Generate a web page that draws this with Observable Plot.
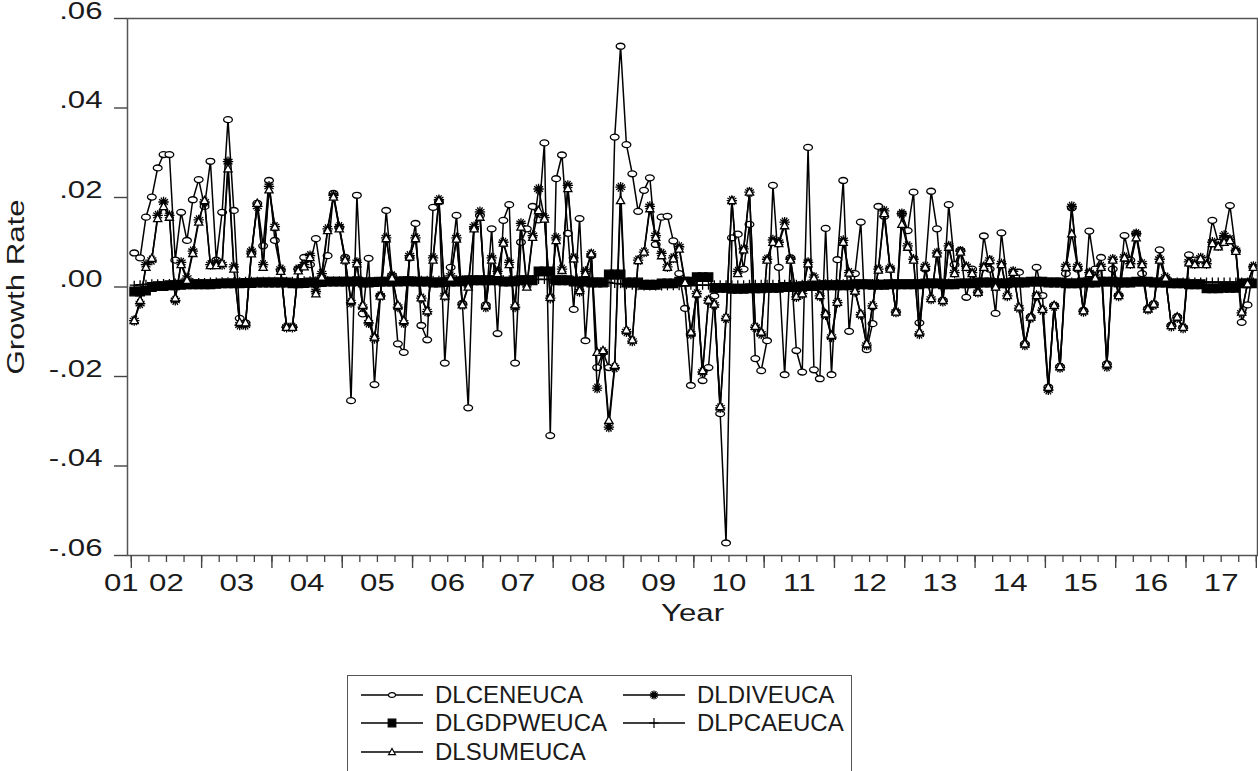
<!DOCTYPE html>
<html><head><meta charset="utf-8">
<script src="https://cdn.jsdelivr.net/npm/d3@7"></script>
<script src="https://cdn.jsdelivr.net/npm/@observablehq/plot@0.6"></script>
<style>
html,body{margin:0;padding:0;background:#fff;}
#wrap{position:relative;width:1258px;height:771px;overflow:hidden;font-family:"Liberation Sans",Arial,Helvetica,sans-serif;}
#legend{position:absolute;left:347px;top:675px;width:505px;height:130px;border:1.5px solid #555;box-sizing:border-box;background:#fff;}
.lsym{position:absolute;}
.ltxt{position:absolute;font-size:24px;line-height:28px;color:#1a1a1a;white-space:nowrap;}
</style></head><body><div id="wrap"></div>
<script>
// ---- data: monthly growth rates, 2002M1 .. 2017M12 (index 1..192) ----
const yearLabels = ["01","02","03","04","05","06","07","08","09","10","11","12","13","14","15","16","17"];
const yTickValues = [-0.06,-0.04,-0.02,0,0.02,0.04,0.06];
const seriesNames = ["DLCENEUCA","DLDIVEUCA","DLGDPWEUCA","DLPCAEUCA","DLSUMEUCA"];

const CEN = [
 .0076,.0065,.0156,.0201,.0266,.0296,.0296,.0060,.0167,.0104,.0195,.0240,
 .0180,.0281,.0060,.0167,.0374,.0171,-.0070,-.0080,.0075,.0187,.0092,.0238,
 .0104,.0037,-.0090,-.0090,.0040,.0066,.0050,.0108,.0020,.0070,.0209,.0133,
 .0066,-.0254,.0205,-.0060,.0064,-.0218,-.0020,.0171,.0026,-.0127,-.0146,.0065,
 .0142,-.0086,-.0118,.0178,.0190,-.0170,.0044,.0160,-.0037,-.0270,.0130,.0160,
 -.0040,.0130,-.0104,.0149,.0184,-.0170,.0100,.0130,.0180,.0150,.0322,-.0332,
 .0242,.0295,.0120,-.0050,.0153,-.0120,.0070,-.0180,-.0146,-.0180,.0335,.0538,
 .0318,.0253,.0169,.0216,.0244,.0095,.0156,.0158,.0103,.0030,-.0048,-.0220,
 .0020,-.0209,-.0180,-.0020,-.0283,-.0572,.0110,.0118,.0040,.0140,-.0160,-.0187,
 -.0120,.0227,.0044,-.0196,.0065,-.0142,-.0190,.0312,-.0185,-.0205,.0131,-.0196,
 .0061,.0238,-.0099,.0030,.0145,-.0140,-.0082,.0180,.0158,.0040,-.0056,.0164,
 .0126,.0212,-.0080,.0040,.0214,.0130,-.0030,.0184,.0050,.0082,-.0023,.0040,
 -.0012,.0114,.0040,-.0059,.0121,.0010,.0033,.0033,-.0127,-.0067,.0044,-.0019,
 -.0224,-.0041,-.0178,.0030,.0177,.0040,-.0053,.0125,.0040,.0066,-.0172,.0040,
 -.0019,.0115,.0060,.0120,.0030,-.0049,-.0038,.0083,.0020,-.0086,-.0067,-.0090,
 .0072,.0060,.0050,.0060,.0149,.0100,.0110,.0182,.0080,-.0079,-.0040,.0044
];
const DIV = [
 -.0075,-.0037,.0050,.0060,.0160,.0190,.0160,-.0030,.0055,.0020,.0080,.0150,
 .0190,.0050,.0055,.0050,.0280,.0045,-.0085,-.0085,.0080,.0180,.0050,.0225,
 .0135,.0040,-.0090,-.0090,.0040,.0050,.0070,-.0010,.0030,.0130,.0205,.0135,
 .0060,-.0035,.0055,-.0045,-.0080,-.0115,-.0020,.0110,.0025,-.0045,-.0080,.0070,
 .0110,-.0025,-.0055,.0065,.0195,-.0020,.0025,.0110,-.0040,.0005,.0135,.0168,
 -.0045,.0065,.0035,.0100,.0055,-.0045,.0142,.0005,.0115,.0219,.0155,-.0025,
 .0110,.0040,.0227,.0065,-.0010,.0035,.0074,-.0226,-.0145,-.0313,-.0180,.0223,
 -.0100,-.0121,.0060,.0078,.0180,.0115,.0075,.0045,.0065,.0090,.0012,-.0105,
 -.0015,-.0190,-.0030,-.0040,-.0270,-.0070,.0193,.0035,.0085,.0212,-.0090,-.0105,
 .0062,.0105,.0100,.0145,.0062,-.0022,-.0015,.0055,.0022,-.0020,-.0062,-.0112,
 -.0035,.0104,.0032,-.0010,-.0062,-.0130,-.0042,.0040,.0170,.0042,-.0056,.0164,
 .0092,.0062,-.0105,.0046,-.0027,.0076,-.0032,.0092,.0032,.0080,.0046,.0032,
 -.0012,.0046,.0060,.0002,.0052,-.0020,.0035,-.0047,-.0130,-.0069,-.0020,-.0052,
 -.0230,-.0043,-.0180,.0046,.0180,.0046,-.0055,.0032,.0022,.0046,-.0178,.0062,
 -.0020,.0067,.0052,.0119,.0052,-.0050,-.0040,.0062,.0022,-.0088,-.0069,-.0092,
 .0056,.0052,.0065,.0052,.0100,.0092,.0115,.0106,.0082,-.0058,.0008,.0046
];
const GDP = [
 -.0010,-.0010,-.0008,.0000,.0002,.0002,.0004,.0004,.0005,.0006,.0006,.0006,
 .0006,.0006,.0007,.0008,.0008,.0008,.0008,.0009,.0009,.0010,.0010,.0010,
 .0010,.0010,.0010,.0008,.0008,.0009,.0010,.0010,.0011,.0012,.0012,.0012,
 .0012,.0012,.0013,.0010,.0010,.0011,.0012,.0012,.0012,.0012,.0013,.0013,
 .0012,.0012,.0012,.0010,.0010,.0011,.0012,.0012,.0013,.0015,.0015,.0015,
 .0015,.0015,.0015,.0012,.0012,.0013,.0015,.0015,.0015,.0035,.0035,.0035,
 .0015,.0015,.0015,.0012,.0012,.0012,.0010,.0010,.0010,.0028,.0028,.0028,
 .0010,.0010,.0010,.0005,.0005,.0005,.0008,.0008,.0008,.0012,.0012,.0012,
 .0022,.0022,.0022,-.0002,-.0002,-.0002,-.0004,-.0004,-.0004,-.0003,-.0003,-.0003,
 -.0002,-.0002,-.0002,.0000,.0000,.0000,.0002,.0002,.0002,.0004,.0004,.0004,
 .0004,.0004,.0004,.0006,.0006,.0006,.0005,.0005,.0005,.0006,.0006,.0006,
 .0006,.0006,.0006,.0008,.0008,.0008,.0006,.0006,.0006,.0008,.0008,.0008,
 .0010,.0010,.0010,.0008,.0008,.0008,.0010,.0010,.0010,.0012,.0012,.0012,
 .0010,.0010,.0010,.0008,.0008,.0008,.0010,.0010,.0010,.0012,.0012,.0012,
 .0010,.0010,.0010,.0012,.0012,.0012,.0010,.0010,.0010,.0008,.0008,.0008,
 .0006,.0006,.0006,-.0003,-.0003,-.0003,-.0002,-.0002,-.0002,.0008,.0008,.0008
];
const PCA = [
 .0004,.0005,.0006,.0007,.0007,.0008,.0008,.0009,.0009,.0010,.0010,.0010,
 .0010,.0011,.0011,.0012,.0012,.0012,.0012,.0013,.0013,.0013,.0013,.0013,
 .0013,.0013,.0013,.0013,.0013,.0014,.0014,.0014,.0014,.0014,.0014,.0014,
 .0014,.0013,.0013,.0013,.0013,.0013,.0013,.0013,.0013,.0014,.0014,.0014,
 .0014,.0015,.0015,.0015,.0015,.0016,.0016,.0016,.0016,.0016,.0016,.0016,
 .0016,.0016,.0016,.0016,.0016,.0016,.0017,.0017,.0017,.0017,.0017,.0017,
 .0016,.0016,.0015,.0015,.0014,.0014,.0013,.0012,.0011,.0010,.0008,.0007,
 .0005,.0004,.0003,.0002,.0002,.0002,.0002,.0003,.0003,.0003,.0004,.0004,
 .0004,.0004,.0004,.0005,.0005,.0005,.0005,.0005,.0005,.0006,.0006,.0006,
 .0006,.0006,.0006,.0006,.0006,.0006,.0006,.0006,.0007,.0007,.0007,.0007,
 .0007,.0007,.0007,.0007,.0007,.0007,.0008,.0008,.0008,.0008,.0008,.0008,
 .0008,.0008,.0008,.0008,.0009,.0009,.0009,.0009,.0009,.0009,.0009,.0010,
 .0010,.0010,.0010,.0010,.0010,.0010,.0010,.0011,.0011,.0011,.0011,.0011,
 .0011,.0011,.0011,.0011,.0011,.0011,.0011,.0011,.0011,.0011,.0011,.0011,
 .0011,.0011,.0011,.0011,.0011,.0011,.0011,.0011,.0011,.0011,.0011,.0011,
 .0011,.0011,.0011,.0011,.0011,.0011,.0011,.0011,.0011,.0011,.0011,.0011
];
const SUM = [
 -.0075,-.0030,.0044,.0064,.0153,.0180,.0156,-.0025,.0050,.0015,.0075,.0145,
 .0193,.0048,.0048,.0053,.0264,.0040,-.0079,-.0080,.0074,.0187,.0044,.0217,
 .0134,.0035,-.0090,-.0090,.0036,.0045,.0066,-.0015,.0022,.0126,.0201,.0130,
 .0060,-.0030,.0052,-.0041,-.0073,-.0112,-.0020,.0108,.0020,-.0041,-.0075,.0067,
 .0108,-.0024,-.0053,.0060,.0193,-.0020,.0020,.0107,-.0040,.0000,.0130,.0156,
 -.0041,.0060,.0030,.0098,.0050,-.0040,.0134,.0000,.0111,.0171,.0152,-.0023,
 .0104,.0037,.0220,.0063,-.0008,.0030,.0074,-.0146,-.0142,-.0298,-.0175,.0193,
 -.0096,-.0118,.0059,.0078,.0175,.0111,.0070,.0044,.0063,.0085,.0010,-.0101,
 -.0015,-.0187,-.0029,-.0038,-.0267,-.0067,.0193,.0030,.0083,.0212,-.0088,-.0101,
 .0060,.0100,.0097,.0137,.0060,-.0021,-.0015,.0052,.0020,-.0019,-.0060,-.0108,
 -.0034,.0100,.0031,-.0009,-.0060,-.0127,-.0041,.0038,.0164,.0040,-.0056,.0140,
 .0089,.0060,-.0101,.0044,-.0026,.0074,-.0030,.0089,.0030,.0078,.0044,.0030,
 -.0012,.0044,.0059,.0000,.0050,-.0019,.0033,-.0045,-.0127,-.0067,-.0019,-.0050,
 -.0224,-.0041,-.0178,.0044,.0119,.0044,-.0053,.0030,.0020,.0044,-.0172,.0060,
 -.0019,.0065,.0050,.0110,.0050,-.0049,-.0038,.0060,.0020,-.0086,-.0067,-.0090,
 .0054,.0050,.0063,.0050,.0097,.0090,.0100,.0104,.0080,-.0056,.0007,.0044
];

// ---- symbols ----
const K = 0.5523;
const ellipseSym = {draw(c, size) {
  const r = Math.sqrt(size / Math.PI), rx = r * 1.25, ry = r * 0.85;
  c.moveTo(rx, 0);
  c.bezierCurveTo(rx, ry * K, rx * K, ry, 0, ry);
  c.bezierCurveTo(-rx * K, ry, -rx, ry * K, -rx, 0);
  c.bezierCurveTo(-rx, -ry * K, -rx * K, -ry, 0, -ry);
  c.bezierCurveTo(rx * K, -ry, rx, -ry * K, rx, 0);
  c.closePath();
}};
const triSym = {draw(c, size) {
  const r = Math.sqrt(size / Math.PI);
  c.moveTo(0, -r * 1.05); c.lineTo(r, r * 0.75); c.lineTo(-r, r * 0.75); c.closePath();
}};
const starSym = {draw(c, size) {
  const r = Math.sqrt(size / Math.PI);
  for (let k = 0; k < 6; k++) {
    const a = k * Math.PI / 6 + Math.PI / 2;
    c.moveTo(-r * Math.cos(a), -r * Math.sin(a)); c.lineTo(r * Math.cos(a), r * Math.sin(a));
  }
}};
const squareSym = {draw(c, size) {
  const r = Math.sqrt(size / Math.PI);
  c.rect(-r, -r, 2 * r, 2 * r);
}};
const plusSym = {draw(c, size) {
  const r = Math.sqrt(size / Math.PI);
  c.moveTo(-r, 0); c.lineTo(r, 0); c.moveTo(0, -r); c.lineTo(0, r);
}};

const styles = {
  DLCENEUCA: {vals: CEN, sym: ellipseSym, fill: "white", r: 3.5, lr: 2.8},
  DLDIVEUCA: {vals: DIV, sym: starSym, fill: "none", r: 5.2, lr: 4.5},
  DLGDPWEUCA: {vals: GDP, sym: squareSym, fill: "black", r: 4.3, lr: 3.8},
  DLPCAEUCA: {vals: PCA, sym: plusSym, fill: "none", r: 4.5, lr: 5},
  DLSUMEUCA: {vals: SUM, sym: triSym, fill: "white", r: 4.1, lr: 3.4}
};

// ---- axis tick positions (month index units) ----
const quarterTicks = d3.range(0, 65).map(k => 0.5 + 3 * k);
const yearTicks = d3.range(0, 17).map(k => 0.5 + 12 * k);
const labelTicks = yearLabels.map((_, i) => i === 0 ? -1.2 : (i - 1) * 12 + 6.5);
const fmtY = v => (v < -1e-9 ? "-" : "") + Math.abs(v).toFixed(2).replace(/^0/, "");

const marks = [];
for (const name of seriesNames) {
  const st = styles[name];
  const rows = st.vals.map((v, i) => ({s: i + 1, v, series: name}));
  marks.push(Plot.line(rows, {x: "s", y: "v", stroke: "black", strokeWidth: 1.5}));
  marks.push(Plot.dot(rows, {x: "s", y: "v", symbol: st.sym, r: st.r, fill: st.fill, stroke: "black", strokeWidth: 1.3}));
}

const chart = Plot.plot({
  width: 1258, height: 660,
  marginLeft: 127, marginRight: 1, marginTop: 18, marginBottom: 105,
  style: {fontFamily: "'Liberation Sans', Arial, Helvetica, sans-serif", fontSize: "24px", color: "#1a1a1a", background: "white", overflow: "visible"},
  x: {type: "linear", domain: [-0.15, 192.7]},
  y: {type: "linear", domain: [-0.06, 0.06]},
  marks: [
    ...marks,
    Plot.frame({stroke: "#555", strokeWidth: 1.5}),
    Plot.axisY({ticks: yTickValues, tickSize: 13, tickPadding: 12, tickFormat: fmtY, label: null, stroke: "#444", strokeWidth: 1.4}),
    Plot.axisX({ticks: quarterTicks, tickSize: 7, tickFormat: () => "", label: null, stroke: "#444", strokeWidth: 1.3}),
    Plot.axisX({ticks: yearTicks, tickSize: 13, tickFormat: () => "", label: null, stroke: "#444", strokeWidth: 1.4}),
    Plot.axisX({ticks: labelTicks, tickSize: 0, tickPadding: 20, dy: 15, tickFormat: d => yearLabels[labelTicks.indexOf(d)], label: null}),
    Plot.text(["Year"], {text: d => d, frameAnchor: "bottom", dy: 65, lineAnchor: "middle", textAnchor: "middle", fontSize: 24}),
    Plot.text(["Growth Rate"], {text: d => d, frameAnchor: "left", dx: -104, rotate: -90, lineAnchor: "middle", textAnchor: "middle", fontSize: 24})
  ]
});

// widen axis lettering (the reference uses a broad face)
chart.querySelectorAll("text").forEach(t => {
  const x = +t.getAttribute("x") || 0, y = +t.getAttribute("y") || 0;
  t.removeAttribute("x"); t.removeAttribute("y");
  const tr = t.getAttribute("transform") || "";
  t.setAttribute("transform", `${tr} translate(${x},${y}) scale(1.3,1)`);
});

const wrap = document.getElementById("wrap");
wrap.appendChild(chart);

// ---- legend ----
const legend = document.createElement("div");
legend.id = "legend";
wrap.appendChild(legend);
const legendPos = [
  {name: "DLCENEUCA", sx: 13, tx: 87, cy: 20},
  {name: "DLDIVEUCA", sx: 275, tx: 349, cy: 20},
  {name: "DLGDPWEUCA", sx: 13, tx: 87, cy: 48.5},
  {name: "DLPCAEUCA", sx: 275, tx: 349, cy: 48.5},
  {name: "DLSUMEUCA", sx: 13, tx: 87, cy: 77}
];
for (const p of legendPos) {
  const st = styles[p.name];
  const svg = d3.create("svg").attr("class", "lsym").attr("width", 62).attr("height", 20)
    .style("left", p.sx + "px").style("top", (p.cy - 10 - 1.5) + "px");
  svg.append("line").attr("x1", 0).attr("x2", 62).attr("y1", 10).attr("y2", 10).attr("stroke", "black").attr("stroke-width", 1.6);
  const path = d3.path();
  st.sym.draw(path, Math.PI * st.lr * st.lr);
  svg.append("path").attr("transform", "translate(31,10)").attr("d", path.toString())
    .attr("fill", st.fill).attr("stroke", "black").attr("stroke-width", 1.2);
  legend.appendChild(svg.node());
  const span = document.createElement("div");
  span.className = "ltxt";
  span.textContent = p.name;
  span.style.left = p.tx + "px";
  span.style.top = (p.cy - 14 - 1.5) + "px";
  legend.appendChild(span);
}
</script></body></html>
